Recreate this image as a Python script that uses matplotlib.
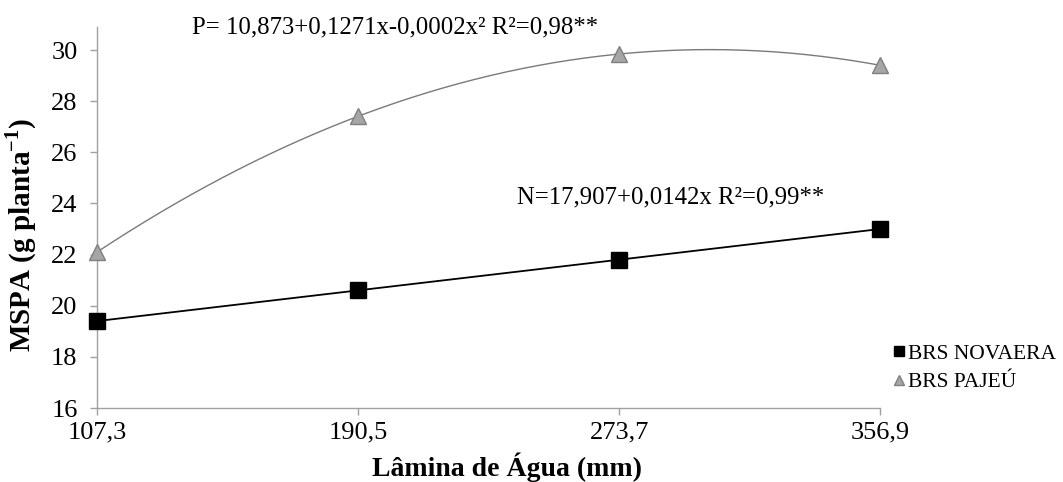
import numpy as np
import matplotlib
matplotlib.use('agg')
import matplotlib.pyplot as plt

#########
# Data  #
#########

lamina = [107.3, 190.5, 273.7, 356.9]
xtick_labels = ['107,3', '190,5', '273,7', '356,9']
novaera = [19.4, 20.6, 21.8, 23.0]
pajeu = [22.1, 27.4, 29.85, 29.4]

eq_p = 'P= 10,873+0,1271x-0,0002x² R²=0,98**'
eq_n = 'N=17,907+0,0142x R²=0,99**'

plt.rcParams['font.family'] = ['Liberation Serif', 'DejaVu Serif']
plt.rcParams['mathtext.fontset'] = 'custom'
plt.rcParams['mathtext.rm'] = 'Liberation Serif'
plt.rcParams['mathtext.bf'] = 'Liberation Serif:bold'

fig = plt.figure(figsize=(10.63, 4.82), dpi=100)
ax = fig.add_axes([0.0913, 0.1535, 0.828 - 0.0913, 0.944 - 0.1535])

# trend lines (fitted from the points, like the spreadsheet trendline)
xs = np.linspace(lamina[0], lamina[-1], 200)
cp = np.polyfit(lamina, pajeu, 2)
cn = np.polyfit(lamina, novaera, 1)
ax.plot(xs, np.polyval(cp, xs), color='#7a7a7a', lw=1.0, zorder=2)
ax.plot(xs, np.polyval(cn, xs), color='black', lw=1.3, zorder=2)

ax.plot(lamina, novaera, ls='none', marker='s', ms=12, color='black',
        label='BRS NOVAERA', zorder=3)
ax.plot(lamina, pajeu, ls='none', marker='^', ms=12, markerfacecolor='#a6a6a6',
        markeredgecolor='#7f7f7f', label='BRS PAJEÚ', zorder=3)

ax.set_xlim(lamina[0], lamina[-1])
ax.set_ylim(16, 30.9)
ax.set_xticks(lamina)
ax.set_xticklabels(xtick_labels)
ax.set_yticks(np.arange(16, 31, 2))
ax.tick_params(labelsize=19, color='#a0a0a0', length=5, width=1)
ax.tick_params(axis='y', pad=9)
ax.tick_params(axis='x', pad=5)

for s in ['top', 'right']:
    ax.spines[s].set_visible(False)
for s in ['left', 'bottom']:
    ax.spines[s].set_color('#a0a0a0')
    ax.spines[s].set_linewidth(1)
ax.patch.set_visible(False)
for ln in ax.lines:
    ln.set_clip_on(False)

ax.set_xlabel('Lâmina de Água (mm)', fontsize=20, fontweight='bold')
ax.set_ylabel('MSPA (g planta$^{\\mathbf{-1}}$)', fontsize=21, fontweight='bold')
ax.xaxis.set_label_coords(0.524, -0.155)
ax.yaxis.set_label_coords(-0.097, 0.455)
ax.xaxis.label.set_va('center')
ax.yaxis.label.set_va('center')

fig.text(192 / 1063, 1 - 27 / 482, eq_p, fontsize=17.8, va='center', ha='left')
fig.text(517 / 1063, 1 - 197 / 482, eq_n, fontsize=17.8, va='center', ha='left')

fig.legend(loc='upper left', bbox_to_anchor=(885 / 1063, 1 - 335 / 482), frameon=False,
           fontsize=15.5, handlelength=0.5, handletextpad=0.15, markerscale=0.6,
           labelspacing=0.4, borderaxespad=0)

plt.savefig('out.png', dpi=100)
